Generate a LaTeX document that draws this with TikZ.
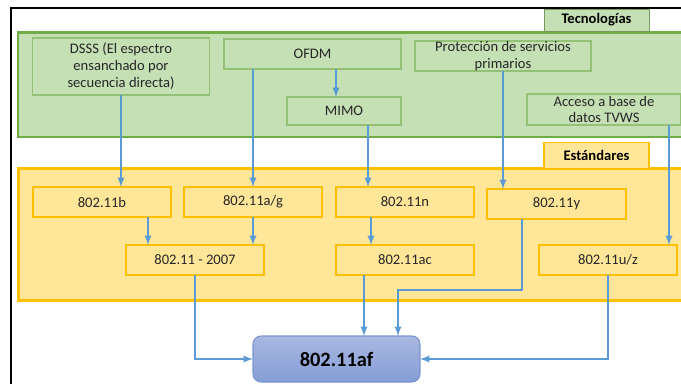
\documentclass[tikz,border=0pt]{standalone}
\usepackage{fontspec}
\setmainfont{Carlito}
\usepackage{tikz}
\definecolor{verdeF}{HTML}{C5E0B4}
\definecolor{verdeB}{HTML}{70AD47}
\definecolor{amaF}{HTML}{FFE699}
\definecolor{amaB}{HTML}{FFC000}
\definecolor{azulL}{HTML}{5B9BD5}
\definecolor{afTop}{HTML}{AAB8E1}
\definecolor{afBot}{HTML}{849DD6}
\definecolor{afBorde}{HTML}{7895D2}
\definecolor{texto}{HTML}{262626}

\begin{document}
\begin{tikzpicture}[x=0.02cm, y=-0.02cm, >=latex,
  tecbox/.style={draw=verdeB!75!white, line width=0.6pt, fill=verdeF, inner sep=0pt, outer sep=0pt,
    align=center, text=texto, font=\fontsize{8.3}{9.6}\selectfont},
  estbox/.style={draw=amaB, line width=0.6pt, fill=amaF, inner sep=0pt, outer sep=0pt,
    align=center, text=texto, font=\fontsize{8.3}{9.6}\selectfont},
  titbox/.style={inner sep=0pt, minimum width=21mm, text=black, font=\fontsize{8.3}{10}\bfseries},
  link/.style={->, draw=azulL, line width=0.85pt}]
\useasboundingbox (0, 0) rectangle (681, 383);
\clip (0, 0) rectangle (681, 383);
\draw [line width=1.1pt] (690, 8) -- (11, 8) -- (11, 390);
% Tecnologias
\draw [draw=verdeB, fill=verdeF, line width=1.7pt] (18, 32.5) rectangle (700, 137);
\node [titbox, draw=verdeB!60!gray, line width=0.5pt, fill=verdeF, minimum height=4.4mm] (tec) at (596.5, 20) {Tecnologías};
\node [tecbox, minimum width=35.4mm, minimum height=11.4mm] (dsss) at (121, 66.5) {DSSS (El espectro\\ensanchado por\\secuencia directa)};
\node [tecbox, minimum width=35.4mm, minimum height=6mm] (ofdm) at (312.5, 54) {OFDM};
\node [tecbox, minimum width=22.8mm, minimum height=5.6mm] (mimo) at (344, 111) {MIMO};
\node [tecbox, minimum width=35.2mm, minimum height=6mm] (prot) at (503, 56) {Protección de servicios\\primarios};
\node [tecbox, minimum width=30.8mm, minimum height=6.2mm] (tvws) at (604, 109.5) {Acceso a base de\\datos TVWS};
% Estandares
\draw [draw=amaB, fill=amaF, line width=2pt] (18.5, 168.5) rectangle (700, 300.5);
\node [titbox, draw=amaB, line width=0.6pt, fill=amaF, minimum height=5.3mm] (est) at (596.5, 155.5) {Estándares};
\node [estbox, minimum width=27.6mm, minimum height=6mm] (b) at (102, 202) {802.11b};
\node [estbox, minimum width=27.6mm, minimum height=6mm] (ag) at (253, 202) {802.11a/g};
\node [estbox, minimum width=27.6mm, minimum height=6mm] (n) at (405, 202) {802.11n};
\node [estbox, minimum width=27.8mm, minimum height=6mm] (y) at (556.5, 204) {802.11y};
\node [estbox, minimum width=27.6mm, minimum height=6mm] (s2007) at (195, 260) {802.11 - 2007};
\node [estbox, minimum width=27.6mm, minimum height=6mm] (ac) at (405, 260) {802.11ac};
\node [estbox, minimum width=27.6mm, minimum height=6mm] (uz) at (608, 260) {802.11u/z};
\node [draw=afBorde, line width=0.6pt, rounded corners=1.6mm,
  top color=afTop, bottom color=afBot,
  minimum width=33.4mm, minimum height=9.2mm, inner sep=0pt, outer sep=0pt,
  font=\fontsize{11.6}{13}\bfseries] (af) at (336.5, 359) {802.11af};
% flechas
\draw [link] (dsss.south) -- (dsss.south |- b.north);
\draw [link] (ag.north |- ofdm.south) -- (ag.north);
\draw [link] ([xshift=-1.6mm]mimo.north |- ofdm.south) -- ([xshift=-1.6mm]mimo.north);
\draw [link] ([xshift=4.8mm]mimo.south) -- ([xshift=4.8mm]mimo.south |- n.north);
\draw [link] (prot.south) -- (prot.south |- y.north);
\draw [link] ([xshift=-1.6mm]uz.north east |- tvws.south) -- ([xshift=-1.6mm]uz.north east);
\draw [link] ([xshift=4.4mm]s2007.north west |- b.south) -- ([xshift=4.4mm]s2007.north west);
\draw [link] (ag.south) -- (ag.south |- s2007.north);
\draw [link] ([xshift=-6.8mm]n.south) -- ([xshift=-6.8mm]n.south |- ac.north);
\draw [link] (s2007.south) |- (af.west);
\draw [link] ([xshift=5.5mm]af.north |- ac.south) -- ([xshift=5.5mm]af.north);
\draw [link] ([xshift=-6.9mm]y.south) -- ++(0, 71) -| ([xshift=12.3mm]af.north);
\draw [link] (uz.south) |- (af.east);
\end{tikzpicture}
\end{document}
